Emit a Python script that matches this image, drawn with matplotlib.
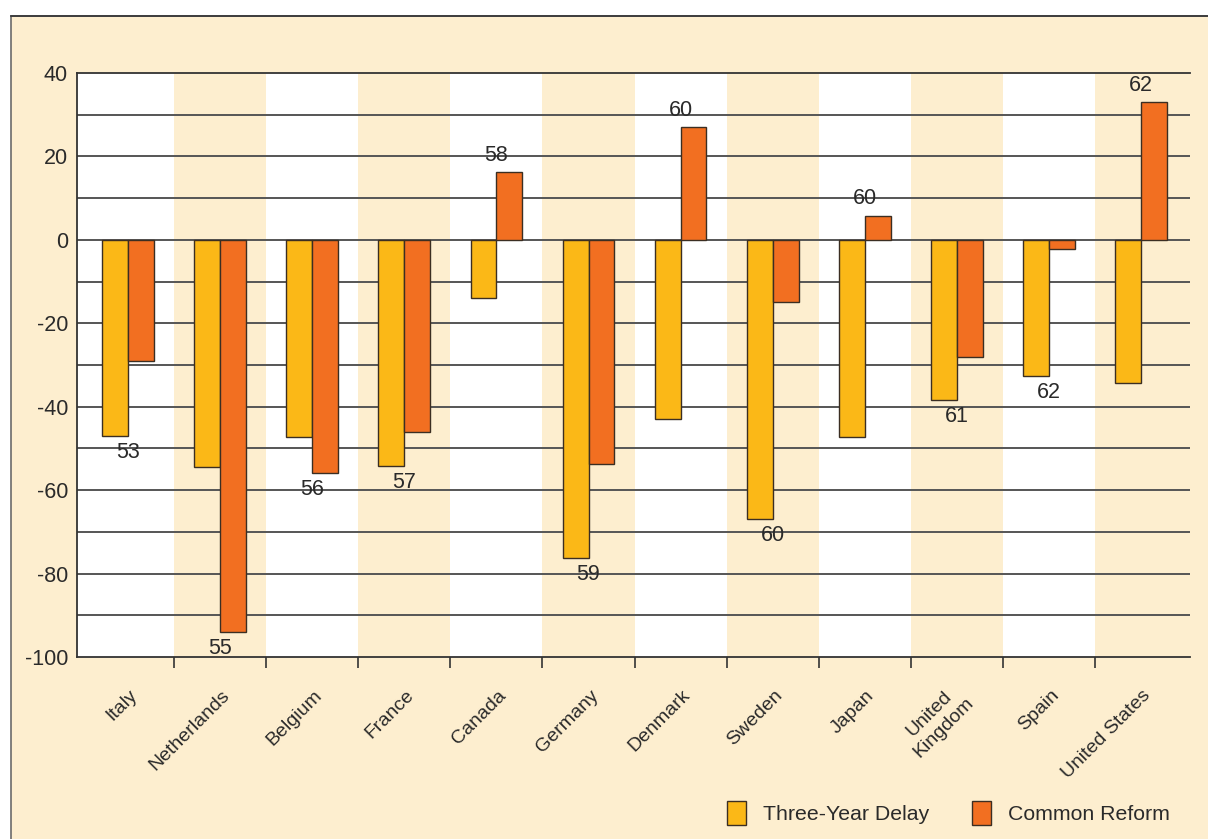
import numpy as np
import matplotlib
matplotlib.use('Agg')
import matplotlib.pyplot as plt
from matplotlib.patches import Rectangle, Patch

plt.rcParams['font.family'] = ['Liberation Sans', 'DejaVu Sans']
plt.rcParams['axes.unicode_minus'] = False

countries = ['Italy', 'Netherlands', 'Belgium', 'France', 'Canada', 'Germany',
             'Denmark', 'Sweden', 'Japan', 'United\nKingdom', 'Spain', 'United States']
three_year_delay = [-47, -54.4, -47.2, -54.2, -13.9, -76.2, -42.9, -66.9, -47.2, -38.4, -32.6, -34.3]
common_reform = [-29, -94, -55.9, -46, 16.3, -53.7, 27.1, -14.9, 5.8, -28, -2.2, 33.1]
age_labels = [53, 55, 56, 57, 58, 59, 60, 60, 60, 61, 62, 62]

BEIGE = '#fdeecf'
YELLOW = '#fbb817'
ORANGE = '#f26f21'
EDGE = '#3b2e22'
TXT = '#2a2a2a'

fig = plt.figure(figsize=(12.08, 8.39), dpi=100)
fig.patch.set_facecolor('white')
# outer panel, kept behind the axes
fig.add_artist(Rectangle((11/1208, -0.05), 1.2, 1.05 - 16/839, transform=fig.transFigure,
                         facecolor=BEIGE, edgecolor='#6b6b6b', linewidth=1.2, zorder=-10))
fig.add_artist(plt.Line2D([11/1208, 1], [1 - 16/839, 1 - 16/839], transform=fig.transFigure,
                          color='#333333', linewidth=1.2, zorder=-9))

ax = fig.add_axes([77/1208, 1 - 657/839, (1190 - 77)/1208, (657 - 73)/839])
ax.set_facecolor('white')

n = len(countries)
x = np.arange(n)
x0, x1 = -0.553, n - 0.47
# alternating column shading
for i in range(n):
    if i % 2 == 1:
        lo = i - 0.5 if i > 0 else x0
        hi = i + 0.5 if i < n - 1 else x1
        ax.axvspan(lo, hi, color=BEIGE, lw=0, zorder=0)

for yv in range(-90, 40, 10):
    ax.axhline(yv, color='#555555', lw=1.4, zorder=1)

w = 0.28
ax.bar(x - w/2, three_year_delay, w, color=YELLOW, edgecolor=EDGE, linewidth=1.0, zorder=3)
ax.bar(x + w/2, common_reform, w, color=ORANGE, edgecolor=EDGE, linewidth=1.0, zorder=3)

for i in range(n):
    if common_reform[i] > 0:
        ax.annotate(str(age_labels[i]), (x[i], common_reform[i]), xytext=(0, 12),
                    textcoords='offset points', ha='center', va='center',
                    fontsize=15.5, color=TXT)
    else:
        low = min(three_year_delay[i], common_reform[i])
        ax.annotate(str(age_labels[i]), (x[i], low), xytext=(0, -12),
                    textcoords='offset points', ha='center', va='center',
                    fontsize=15.5, color=TXT)

ax.set_xlim(x0, x1)
ax.set_ylim(-100, 40)
ax.set_yticks(range(-100, 41, 20))
ax.tick_params(axis='y', length=0, pad=6.5, labelsize=15.5, labelcolor=TXT)

ax.set_xticks(x)
ax.set_xticklabels([])
ax.set_xticks(np.arange(0.5, n - 0.5, 1), minor=True)
ax.tick_params(axis='x', which='major', length=0)
ax.tick_params(axis='x', which='minor', length=8, width=1.2, color='#333333', direction='out')

off = matplotlib.transforms.ScaledTranslation(7/100, -36/100, fig.dpi_scale_trans)
for i, name in enumerate(countries):
    ax.text(x[i], 0, name, transform=ax.get_xaxis_transform() + off,
            rotation=45, rotation_mode='anchor', ha='right', va='center',
            multialignment='center', fontsize=14, color=TXT)

for s in ['top', 'left', 'bottom']:
    ax.spines[s].set_color('#333333')
    ax.spines[s].set_linewidth(1.3)
ax.spines['right'].set_visible(False)

handles = [Patch(facecolor=YELLOW, edgecolor=EDGE, label='Three-Year Delay'),
           Patch(facecolor=ORANGE, edgecolor=EDGE, label='Common Reform')]
fig.legend(handles=handles, loc='center right', bbox_to_anchor=(0.984, 0.031),
           ncol=2, frameon=False, prop={'size': 15.3}, handlelength=0.9, handleheight=1.3,
           columnspacing=2.0, handletextpad=0.8, labelcolor=TXT)

fig.savefig('out.png', dpi=100, facecolor=fig.get_facecolor())
